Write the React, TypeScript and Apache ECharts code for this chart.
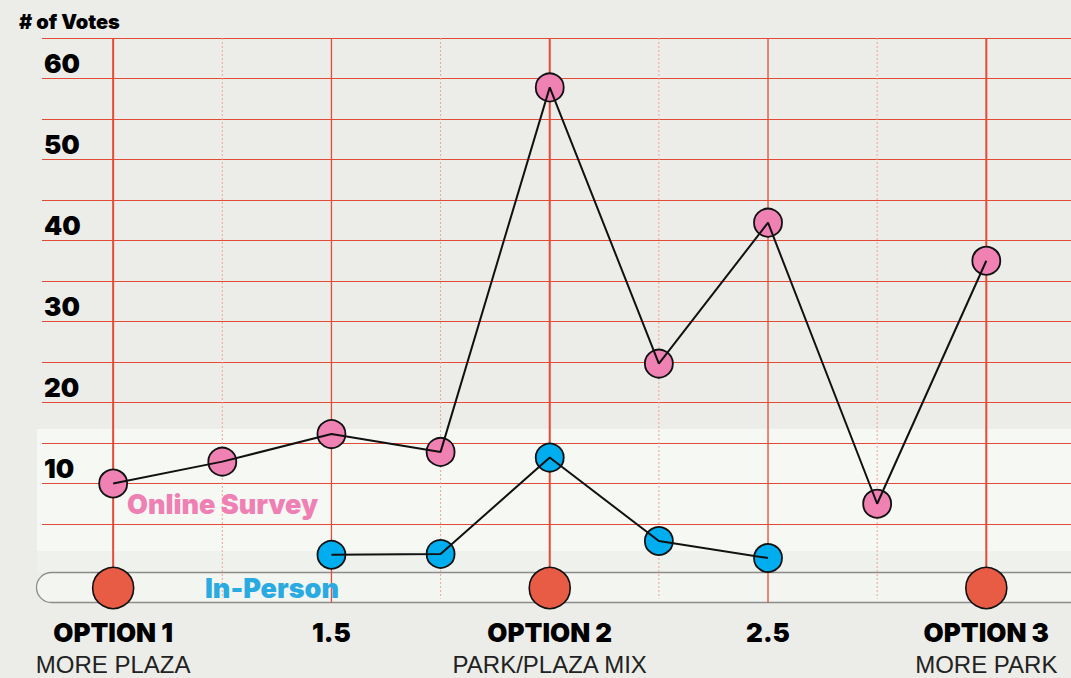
import React, { useEffect, useRef } from "react";
import * as echarts from "echarts";

// ---- data ----
const positions = [1, 1.25, 1.5, 1.75, 2, 2.25, 2.5, 2.75, 3];
const onlineVotes = [10, 12.7, 16.1, 13.9, 58.9, 24.8, 42.2, 7.5, 37.5];
const inPersonPositions = [1.5, 1.75, 2, 2.25, 2.5];
const inPersonVotes = [1.2, 1.3, 13.2, 2.9, 0.8];
const optionPositions = [1, 2, 3];
const optionMarkerLevel = -2.9;
const majorTicks = [1, 1.5, 2, 2.5, 3];
const tickTitles = ["OPTION 1", "1.5", "OPTION 2", "2.5", "OPTION 3"];
const tickSubtitles = ["MORE PLAZA", "", "PARK/PLAZA MIX", "", "MORE PARK"];
const minorTicks = [1.25, 1.75, 2.25, 2.75];
const yLabelValues = [10, 20, 30, 40, 50, 60];

const RED = "#e24b36";
const PINK = "#ef82b3";
const BLUE = "#00aeef";
const FONT = "'Liberation Sans', Arial, sans-serif";
const HEAVY = "Inter, 'Liberation Sans', Arial, sans-serif";
const Y_MIN = -5;
const Y_MAX = 65;

export default function App() {
  const ref = useRef<HTMLDivElement>(null);

  useEffect(() => {
    document.body.style.margin = "0";
    const chart = echarts.init(ref.current!, undefined, { renderer: "svg" });

    const tickCount = (Y_MAX - Y_MIN) / 5 + 1;
    const splitColors = Array.from({ length: tickCount }, (_, i) =>
      i < 2 ? "rgba(0,0,0,0)" : RED
    );

    const vLine = (x: number, bottom: number, lineStyle: any) => ({
      type: "line",
      silent: true,
      z: 1,
      symbol: "none",
      lineStyle,
      data: [
        [x, Y_MAX],
        [x, bottom],
      ],
    });

    const verticalSeries: any[] = [
      ...optionPositions.map((x) =>
        vLine(x, optionMarkerLevel, { color: RED, width: 2, type: "solid" })
      ),
      ...majorTicks
        .filter((x) => optionPositions.indexOf(x) < 0)
        .map((x) => vLine(x, -4.7, { color: RED, width: 1.3, type: "solid" })),
      ...minorTicks.map((x) =>
        vLine(x, -4.2, { color: "#f2a394", width: 1, type: [2, 2] })
      ),
    ];

    chart.setOption({
      animation: false,
      backgroundColor: "#ecede8",
      grid: { left: 42, right: 0, top: 38, bottom: 73 },
      graphic: [
        {
          type: "rect",
          z: -1,
          shape: { x: 37, y: 429, width: 1040, height: 122 },
          style: { fill: "#f6f8f3" },
        },
        {
          type: "rect",
          z: -1,
          shape: { x: 37, y: 551, width: 1040, height: 22 },
          style: { fill: "#eef1ec" },
        },
        {
          type: "rect",
          z: -1,
          shape: { x: 36.5, y: 572.5, width: 1100, height: 30, r: 15 },
          style: { fill: "#f3f5f0", stroke: "#8c8c8a", lineWidth: 1.3 },
        },
        {
          type: "text",
          z: 10,
          x: 19,
          y: 22,
          style: {
            text: "# of Votes",
            fill: "#000",
            font: `900 20px ${HEAVY}`,
            verticalAlign: "middle",
          },
        },
        {
          type: "text",
          z: 10,
          x: 127,
          y: 504,
          style: {
            text: "Online Survey",
            fill: "#ee80b4",
            font: `900 27px ${HEAVY}`,
            verticalAlign: "middle",
          },
        },
        {
          type: "text",
          z: 10,
          x: 205,
          y: 588,
          style: {
            text: "In-Person",
            fill: "#29abe2",
            font: `900 27px ${HEAVY}`,
            verticalAlign: "middle",
          },
        },
      ],
      xAxis: {
        type: "value",
        min: 0.837,
        max: 3.194,
        axisLine: { show: false },
        axisTick: { show: false },
        splitLine: { show: false },
        axisLabel: {
          customValues: majorTicks,
          margin: 11,
          formatter: (v: number) => {
            const i = majorTicks.indexOf(v);
            if (i < 0) return "";
            const sub = tickSubtitles[i] || " ";
            return `{t|${tickTitles[i]}}\n{s|${sub}}`;
          },
          rich: {
            t: {
              fontFamily: HEAVY,
              fontWeight: 900,
              fontSize: 26,
              color: "#000",
              lineHeight: 32,
              align: "center",
            },
            s: {
              fontFamily: FONT,
              fontWeight: "normal",
              fontSize: 24,
              color: "#222",
              lineHeight: 32,
              align: "center",
            },
          },
        },
      },
      yAxis: {
        type: "value",
        min: Y_MIN,
        max: Y_MAX,
        interval: 5,
        axisLine: { show: false },
        axisTick: { show: false },
        axisLabel: {
          inside: true,
          margin: 2,
          formatter: (v: number) => (yLabelValues.indexOf(v) >= 0 ? String(v) : ""),
          fontFamily: HEAVY,
          fontWeight: 900,
          fontSize: 26,
          color: "#000",
          verticalAlign: "bottom",
          lineHeight: 28,
          padding: [0, 0, 1, 0],
        },
        splitLine: { show: true, lineStyle: { color: splitColors, width: 1 } },
      },
      series: [
        ...verticalSeries,
        {
          name: "Online Survey",
          type: "scatter",
          z: 3,
          symbolSize: 28,
          itemStyle: { color: PINK, borderColor: "#111", borderWidth: 1.8, opacity: 1 },
          data: positions.map((x, i) => [x, onlineVotes[i]]),
        },
        {
          name: "Online Survey line",
          type: "line",
          z: 4,
          symbol: "none",
          lineStyle: { color: "#111", width: 2 },
          data: positions.map((x, i) => [x, onlineVotes[i]]),
        },
        {
          name: "In-Person",
          type: "scatter",
          z: 3,
          symbolSize: 28,
          itemStyle: { color: BLUE, borderColor: "#111", borderWidth: 1.8, opacity: 1 },
          data: inPersonPositions.map((x, i) => [x, inPersonVotes[i]]),
        },
        {
          name: "In-Person line",
          type: "line",
          z: 4,
          symbol: "none",
          lineStyle: { color: "#111", width: 2 },
          data: inPersonPositions.map((x, i) => [x, inPersonVotes[i]]),
        },
        {
          name: "Options",
          type: "scatter",
          z: 5,
          symbolSize: 41,
          itemStyle: { color: "#e85c46", borderColor: "#111", borderWidth: 1.6, opacity: 1 },
          data: optionPositions.map((x) => [x, optionMarkerLevel]),
        },
      ],
    });

    return () => chart.dispose();
  }, []);

  return <div ref={ref} style={{ width: 1071, height: 678 }} />;
}
